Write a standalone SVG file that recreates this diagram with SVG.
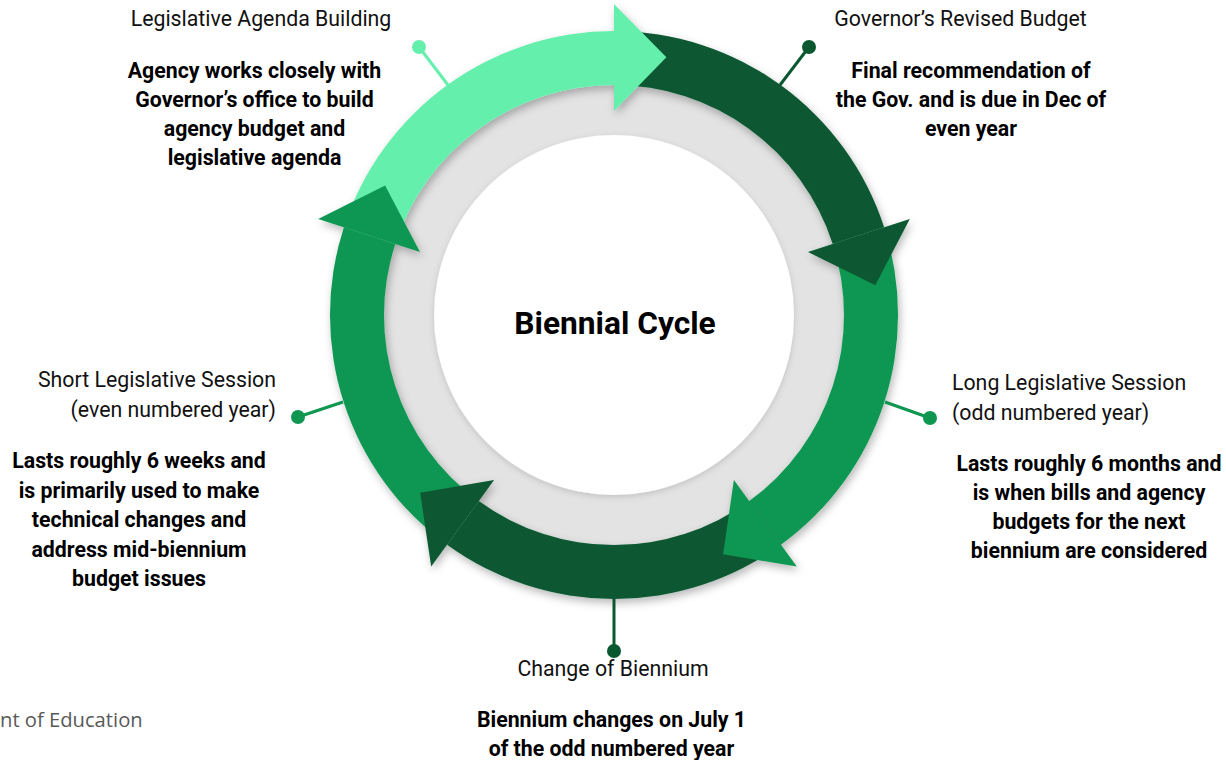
<svg xmlns="http://www.w3.org/2000/svg" width="1226" height="760" viewBox="0 0 1226 760">
<style>
.lbl{font-family:Roboto,"Liberation Sans",sans-serif;font-size:21.3px;fill:#111;}
.desc{font-family:Roboto,"Liberation Sans",sans-serif;font-size:21.3px;font-weight:bold;fill:#000;text-anchor:middle;}
.mid{text-anchor:middle;}
.end{text-anchor:end;}
.lg{fill:#65EFAD;}
.dg{fill:#095830;}
.mg{fill:#0F9752;}
.pin{stroke-width:3;fill:none;}
</style>
<defs>
<filter id="sh" x="-20%" y="-20%" width="140%" height="140%">
<feDropShadow dx="2" dy="4" stdDeviation="4" flood-color="#000" flood-opacity="0.28"/>
</filter>
<filter id="sh2" x="-20%" y="-20%" width="140%" height="140%">
<feDropShadow dx="0" dy="2" stdDeviation="3" flood-color="#000" flood-opacity="0.15"/>
</filter>
</defs>
<rect width="1226" height="760" fill="#fff"/>

<g id="hub">
<circle cx="614" cy="315" r="230" fill="#E3E3E3"/>
<circle cx="614" cy="315" r="180" fill="#fff" filter="url(#sh2)"/>
<text x="615" y="334" font-family="Roboto,'Liberation Sans',sans-serif" font-size="31.7" font-weight="bold" text-anchor="middle" fill="#000">Biennial Cycle</text>
</g>

<g id="connectors">
<g id="ring" filter="url(#sh)">
<path class="lg" d="M343.9,227.2 A284,284 0 0 1 614,31 L614,85 A230,230 0 0 0 395.3,243.9 Z"/>
<path class="dg" d="M614,31 A284,284 0 0 1 884.1,227.2 L832.7,243.9 A230,230 0 0 0 614,85 Z"/>
<path class="mg" d="M884.1,227.2 A284,284 0 0 1 780.9,544.8 L749.2,501.1 A230,230 0 0 0 832.7,243.9 Z"/>
<path class="dg" d="M780.9,544.8 A284,284 0 0 1 447.1,544.8 L478.8,501.1 A230,230 0 0 0 749.2,501.1 Z"/>
<path class="mg" d="M447.1,544.8 A284,284 0 0 1 343.9,227.2 L395.3,243.9 A230,230 0 0 0 478.8,501.1 Z"/>
<polygon class="lg" points="614,4 666.4,57.3 614,111"/>
<polygon class="dg" points="909.8,218.9 875.3,285.2 808,252"/>
<polygon class="mg" points="796.8,566.6 723.1,554.3 733.9,480"/>
<polygon class="dg" points="431.2,566.6 420.1,492.7 494.1,480"/>
<polygon class="mg" points="318.2,218.9 385.1,185.5 420,252"/>
</g>
<line class="pin" x1="448" y1="85" x2="419" y2="47" stroke="#65EFAD"/>
<line class="pin" x1="780" y1="85" x2="809" y2="47" stroke="#095830"/>
<line class="pin" x1="885" y1="402" x2="930" y2="418" stroke="#0F9752"/>
<line class="pin" x1="343" y1="402" x2="298" y2="417" stroke="#0F9752"/>
<line class="pin" x1="614" y1="598" x2="614" y2="651" stroke="#095830"/>
</g>

<g id="legislative-agenda-building">
<circle cx="419" cy="47" r="7" class="lg"/>
<text class="lbl mid" x="261" y="26">Legislative Agenda Building</text>
<text class="desc" x="254.5" y="78">Agency works closely with</text>
<text class="desc" x="254.5" y="107">Governor’s office to build</text>
<text class="desc" x="254.5" y="136">agency budget and</text>
<text class="desc" x="254.5" y="165">legislative agenda</text>
</g>

<g id="governors-revised-budget">
<circle cx="809" cy="47" r="7" class="dg"/>
<text class="lbl mid" x="960.5" y="26">Governor’s Revised Budget</text>
<text class="desc" x="971" y="78">Final recommendation of</text>
<text class="desc" x="971" y="107">the Gov. and is due in Dec of</text>
<text class="desc" x="971" y="136">even year</text>
</g>

<g id="long-legislative-session">
<circle cx="930" cy="418" r="7" class="mg"/>
<text class="lbl" x="952" y="390">Long Legislative Session</text>
<text class="lbl" x="952" y="420">(odd numbered year)</text>
<text class="desc" x="1089" y="471">Lasts roughly 6 months and</text>
<text class="desc" x="1089" y="500">is when bills and agency</text>
<text class="desc" x="1089" y="529">budgets for the next</text>
<text class="desc" x="1089" y="558">biennium are considered</text>
</g>

<g id="change-of-biennium">
<circle cx="614" cy="651" r="7" class="dg"/>
<text class="lbl mid" x="613" y="676">Change of Biennium</text>
<text class="desc" x="611.5" y="727">Biennium changes on July 1</text>
<text class="desc" x="611.5" y="756">of the odd numbered year</text>
</g>

<g id="short-legislative-session">
<circle cx="298" cy="417" r="7" class="mg"/>
<text class="lbl end" x="276" y="387">Short Legislative Session</text>
<text class="lbl end" x="276" y="417">(even numbered year)</text>
<text class="desc" x="139" y="468">Lasts roughly 6 weeks and</text>
<text class="desc" x="139" y="497.5">is primarily used to make</text>
<text class="desc" x="139" y="527">technical changes and</text>
<text class="desc" x="139" y="556.5">address mid-biennium</text>
<text class="desc" x="139" y="586">budget issues</text>
</g>

<g id="footer">
<text x="0" y="727" font-family="'Open Sans','Liberation Sans',sans-serif" font-size="20.2" fill="#595959">nt of Education</text>
</g>
</svg>
